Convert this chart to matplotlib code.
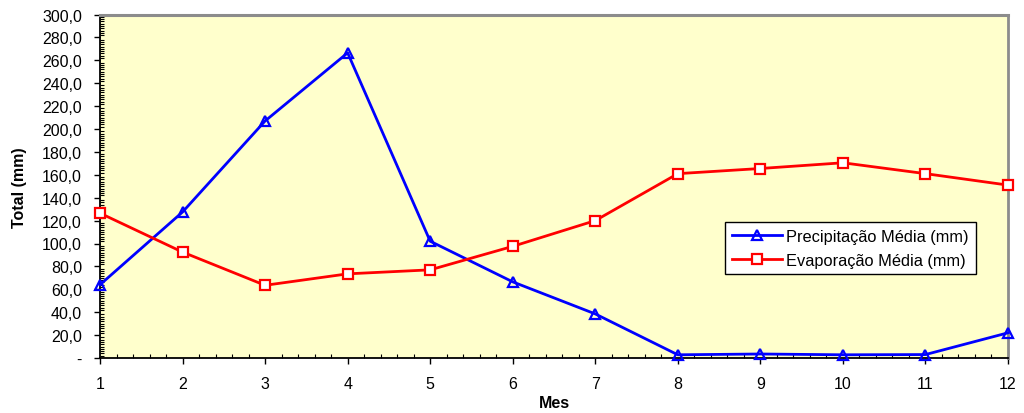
import matplotlib
matplotlib.use("Agg")
import matplotlib.pyplot as plt
from matplotlib.ticker import MultipleLocator, FuncFormatter

plt.rcParams['font.family'] = ['Liberation Sans', 'DejaVu Sans']

months = [1, 2, 3, 4, 5, 6, 7, 8, 9, 10, 11, 12]
precip = [64.0, 127.5, 207.0, 266.5, 102.0, 66.5, 38.5, 2.8, 3.5, 2.8, 3.0, 22.0]
evap = [126.5, 92.5, 63.5, 73.5, 77.0, 97.5, 120.0, 161.0, 165.5, 170.5, 161.0, 151.0]
label_precip = "Precipitação Média (mm)"
label_evap = "Evaporação Média (mm)"

W, H = 1024, 414
left, right, top, bottom = 100, 1008, 15.5, 359
fig = plt.figure(figsize=(10.24, 4.14), dpi=100)
ax = fig.add_axes([left / W, (H - bottom) / H, (right - left) / W, (bottom - top) / H])
ax.set_facecolor('#FFFFCC')

ax.plot(months, precip, color='#0000FF', lw=2.0, marker='^', ms=7,
        mfc='none', mec='#0000FF', mew=1.6, label=label_precip, clip_on=False, zorder=3)
ax.plot(months, evap, color='#FF0000', lw=2.0, marker='s', ms=6.5,
        mfc='white', mec='#FF0000', mew=1.6, label=label_evap, clip_on=False, zorder=3)

ax.set_xlim(1, 12)
ax.set_ylim(0, 300)
ax.xaxis.set_major_locator(MultipleLocator(1))
ax.xaxis.set_minor_locator(MultipleLocator(0.2))
ax.yaxis.set_major_locator(MultipleLocator(20))
ax.yaxis.set_minor_locator(MultipleLocator(2))

def yfmt(v, pos):
    if abs(v) < 1e-9:
        return '-'
    return f"{v:.1f}".replace('.', ',')
ax.yaxis.set_major_formatter(FuncFormatter(yfmt))

ax.tick_params(axis='both', which='major', direction='out', length=4, width=1,
               labelsize=11.5, colors='black')
ax.tick_params(axis='y', which='major', pad=9)
ax.tick_params(axis='x', which='major', pad=9)
ax.tick_params(axis='both', which='minor', direction='in', length=3, width=0.8)

for s in ['left', 'bottom']:
    ax.spines[s].set_color('black')
    ax.spines[s].set_linewidth(1.3)
ax.spines['top'].set_color('#8C8C8C')
ax.spines['top'].set_linewidth(2.2)
ax.spines['right'].set_color('#8C8C8C')
ax.spines['right'].set_linewidth(2.0)

ax.set_ylabel('Total (mm)', fontsize=11.5, fontweight='bold', labelpad=11)
ax.set_xlabel('Mes', fontsize=11.5, fontweight='bold', labelpad=3)

leg = ax.legend(loc='upper left', bbox_to_anchor=((725 - left) / (right - left), (bottom - 223) / (bottom - top)),
                fontsize=11.8, frameon=True, fancybox=False, edgecolor='black', facecolor='white',
                framealpha=1, handlelength=3.1, borderpad=0.4, labelspacing=0.55,
                handletextpad=0.25, borderaxespad=0)
leg.get_frame().set_linewidth(1.0)

fig.savefig('out.png', dpi=100)
